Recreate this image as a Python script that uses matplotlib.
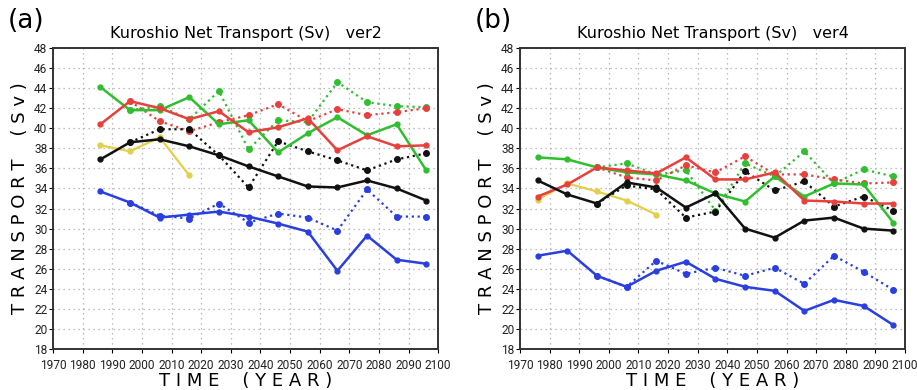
import numpy as np
import matplotlib
matplotlib.use("Agg")
from matplotlib import pyplot as plt

# decade-mean points
yrs_a = [1986, 1996, 2006, 2016, 2026, 2036, 2046, 2056, 2066, 2076, 2086, 2096]
yrs_b = [1976] + yrs_a
yrs_dot = yrs_a[1:]          # dotted runs branch off at 1996

# ---- panel (a) ver2
a_black = [36.9, 38.6, 38.9, 38.2, 37.3, 36.2, 35.2, 34.2, 34.1, 34.8, 34.0, 32.8]
a_black_d = [38.6, 39.9, 39.9, 37.3, 34.1, 38.7, 37.7, 36.8, 35.8, 36.9, 37.5]
a_red = [40.4, 42.7, 42.0, 40.9, 41.7, 39.6, 40.1, 41.0, 37.8, 39.2, 38.2, 38.3]
a_red_d = [42.7, 40.7, 39.7, 40.6, 41.3, 42.4, 40.7, 41.9, 41.3, 41.6, 42.0]
a_green = [44.1, 41.8, 41.8, 43.1, 40.4, 40.8, 37.6, 39.5, 41.1, 39.3, 40.4, 35.8]
a_green_d = [41.8, 42.2, 40.9, 43.7, 37.9, 40.8, 40.6, 44.6, 42.6, 42.2, 42.1]
a_blue = [33.7, 32.6, 31.1, 31.4, 31.7, 31.2, 30.5, 29.7, 25.8, 29.3, 26.9, 26.5]
a_blue_d = [32.6, 31.3, 31.0, 32.5, 30.6, 31.5, 31.1, 29.8, 33.9, 31.2, 31.2]
a_yellow = [38.3, 37.7, 39.1, 35.3]

# ---- panel (b) ver4
b_black = [34.8, 33.4, 32.5, 34.6, 34.1, 32.1, 33.5, 30.0, 29.1, 30.8, 31.1, 30.0, 29.8]
b_black_d = [32.5, 34.3, 33.9, 31.1, 31.7, 35.7, 33.8, 34.7, 32.2, 33.2, 31.8]
b_red = [33.2, 34.4, 36.1, 35.8, 35.5, 37.1, 34.9, 34.9, 35.6, 32.8, 32.7, 32.5, 32.5]
b_red_d = [36.1, 35.1, 34.8, 36.3, 35.6, 37.2, 35.4, 35.4, 34.9, 34.5, 34.6]
b_green = [37.1, 36.9, 36.1, 35.6, 35.4, 34.8, 33.5, 32.7, 35.2, 33.2, 34.5, 34.4, 30.6]
b_green_d = [36.1, 36.5, 35.4, 35.8, 31.8, 36.5, 35.2, 37.7, 34.5, 35.9, 35.2]
b_blue = [27.3, 27.8, 25.3, 24.2, 25.8, 26.7, 25.0, 24.2, 23.8, 21.8, 22.9, 22.3, 20.4]
b_blue_d = [25.3, 24.2, 26.8, 25.5, 26.1, 25.3, 26.1, 24.5, 27.3, 25.7, 23.9]
b_yellow = [32.9, 34.5, 33.7, 32.8, 31.4]

C_RED = '#e8403c'
C_GREEN = '#2fbf2f'
C_BLUE = '#2a3fe0'
C_YEL = '#e2d04a'
C_BLK = '#111111'


def panel(ax, yrs, solid, dotted, yellow, title, tag):
    for vals, col in solid:
        ax.plot(yrs, vals, '-', color=col, lw=1.8, marker='o', ms=3.5, zorder=3)
    for vals, col in dotted:
        ax.plot(yrs_dot, vals, ':', color=col, lw=1.6, marker='o', ms=4, zorder=2)
    ax.plot(yrs[:len(yellow)], yellow, '-', color=C_YEL, lw=1.6, marker='o', ms=3.5, zorder=2)

    ax.set_xlim(1970, 2100)
    ax.set_ylim(18, 48)
    ax.set_xticks(np.arange(1970, 2101, 10))
    ax.set_yticks(np.arange(18, 49, 2))
    ax.grid(True, ls=(0, (1, 3)), color='#aaaaaa', lw=0.9)
    ax.tick_params(length=3, width=0.8, direction='out', pad=1, labelsize=8.6)
    ax.tick_params(axis='x', pad=4)
    for lab in ax.get_xticklabels() + ax.get_yticklabels():
        lab.set_family('Roboto')
        lab.set_color('#222222')
    for s in ax.spines.values():
        s.set_color('#333333')
        s.set_linewidth(1.4)
    ax.set_title(title, fontsize=11.5, pad=7)
    ax.set_xlabel('T I M E    ( Y E A R )', fontsize=13, labelpad=0)
    ax.set_ylabel('T R A N S P O R T    ( S v )', fontsize=13, labelpad=4)
    ax.text(-0.118, 1.088, tag, transform=ax.transAxes, fontsize=19, va='center', ha='left')


fig = plt.figure(figsize=(9.17, 3.9), dpi=100)
ax1 = fig.add_axes([0.0578, 0.105, 0.42, 0.772])
ax2 = fig.add_axes([0.567, 0.105, 0.42, 0.772])

panel(ax1, yrs_a,
      [(a_green, C_GREEN), (a_red, C_RED), (a_black, C_BLK), (a_blue, C_BLUE)],
      [(a_green_d, C_GREEN), (a_red_d, C_RED), (a_black_d, C_BLK), (a_blue_d, C_BLUE)],
      a_yellow, 'Kuroshio Net Transport (Sv)   ver2', '(a)')
panel(ax2, yrs_b,
      [(b_green, C_GREEN), (b_red, C_RED), (b_black, C_BLK), (b_blue, C_BLUE)],
      [(b_green_d, C_GREEN), (b_red_d, C_RED), (b_black_d, C_BLK), (b_blue_d, C_BLUE)],
      b_yellow, 'Kuroshio Net Transport (Sv)   ver4', '(b)')

fig.savefig('out.png', dpi=100)
